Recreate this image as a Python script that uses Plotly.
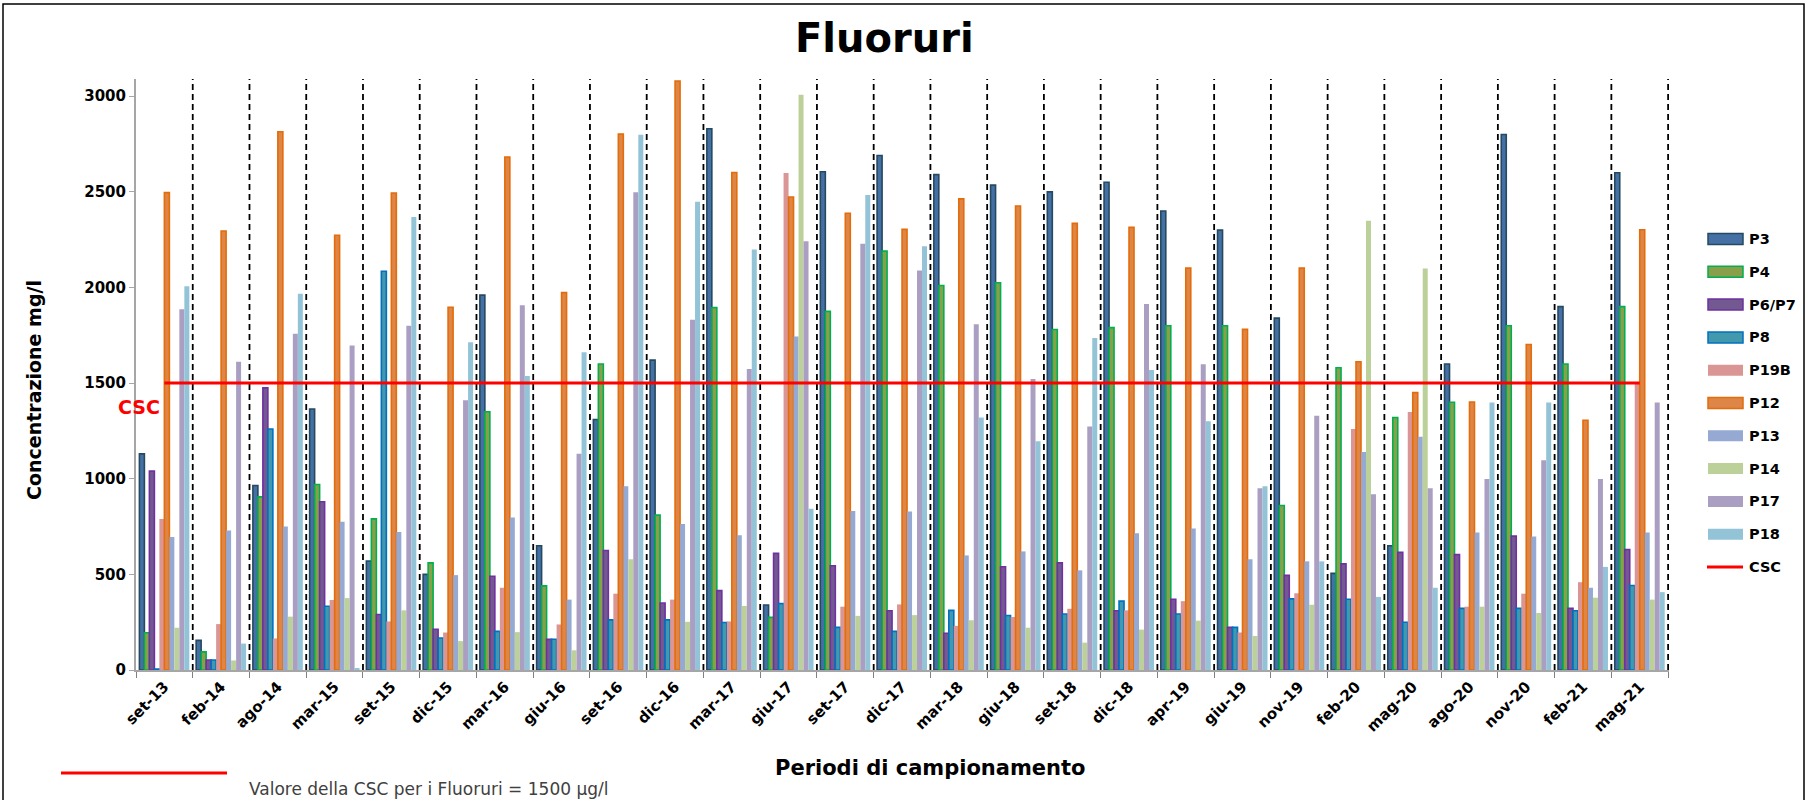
import plotly.graph_objects as go

periods = ["set-13", "feb-14", "ago-14", "mar-15", "set-15", "dic-15", "mar-16", "giu-16", "set-16",
           "dic-16", "mar-17", "giu-17", "set-17", "dic-17", "mar-18", "giu-18", "set-18", "dic-18",
           "apr-19", "giu-19", "nov-19", "feb-20", "mag-20", "ago-20", "nov-20", "feb-21", "mag-21"]

p3 = [1130, 155, 965, 1365, 570, 500, 1960, 650, 1310, 1620, 2830, 340, 2605, 2690, 2590, 2535, 2500,
      2550, 2400, 2300, 1840, 505, 650, 1600, 2800, 1900, 2600]
p4 = [195, 95, 905, 970, 790, 560, 1350, 440, 1600, 810, 1895, 275, 1875, 2190, 2010, 2025, 1780,
      1790, 1800, 1800, 860, 1580, 1320, 1400, 1800, 1600, 1900]
p6_p7 = [1040, 52, 1475, 880, 290, 213, 490, 160, 625, 350, 415, 610, 545, 310, 192, 540, 560,
         310, 370, 223, 495, 555, 615, 603, 700, 322, 630]
p8 = [5, 52, 1260, 333, 2085, 167, 202, 161, 262, 262, 248, 347, 223, 202, 312, 285, 293,
      360, 293, 223, 372, 370, 250, 322, 322, 310, 442]
p19b = [789, 240, 165, 366, 254, 196, 430, 238, 399, 368, 254, 2599, 331, 343, 231, 277, 320,
        312, 360, 196, 401, 1260, 1349, 331, 399, 459, 1500]
p12 = [2496, 2295, 2814, 2273, 2494, 1897, 2682, 1973, 2802, 3079, 2601, 2473, 2388, 2304, 2463, 2426, 2335,
       2314, 2101, 1781, 2101, 1612, 1450, 1401, 1702, 1306, 2302]
p13 = [696, 729, 750, 775, 721, 496, 797, 368, 961, 764, 705, 1744, 831, 829, 599, 620, 521,
       715, 740, 579, 568, 1140, 1219, 719, 698, 430, 719]
p14 = [221, 50, 279, 376, 312, 151, 198, 103, 579, 252, 335, 3008, 283, 287, 260, 221, 143,
       211, 258, 178, 341, 2349, 2099, 331, 298, 378, 368]
p17 = [1886, 1612, 1758, 1696, 1800, 1411, 1907, 1130, 2498, 1831, 1574, 2242, 2229, 2089, 1808, 1521, 1273,
       1913, 1599, 950, 1329, 919, 950, 998, 1097, 998, 1399]
p18 = [2006, 138, 1967, 10, 2368, 1713, 1537, 1661, 2798, 2448, 2198, 843, 2483, 2215, 1320, 1196, 1736,
       1568, 1300, 961, 568, 382, 430, 1399, 1399, 539, 407]
csc = [1500] * len(periods)

SERIES = [
    ("P3", p3, "#4470A5", "#254A60"),
    ("P4", p4, "#8A9F4A", "#00B050"),
    ("P6/P7", p6_p7, "#725A91", "#7030A0"),
    ("P8", p8, "#4299AE", "#0070C0"),
    ("P19B", p19b, "#D99694", None),
    ("P12", p12, "#DD8647", "#E46C0A"),
    ("P13", p13, "#95A9D2", None),
    ("P14", p14, "#BCD09A", None),
    ("P17", p17, "#AA9FC3", None),
    ("P18", p18, "#93C3D6", None),
]

FONT = "DejaVu Sans"
W, H = 1809, 800
L, R, T, B = 136, 140, 79, 130
PW, PH = W - L - R, H - T - B


def px_x(px):
    return (px - L) / PW


def px_y(py):
    return (H - B - py) / PH


fig = go.Figure()
for name, vals, fill, edge in SERIES:
    fig.add_trace(go.Bar(
        x=periods, y=vals, name=name,
        marker=dict(color=fill, line=dict(color=edge or fill, width=1.6 if edge else 0)),
        showlegend=False,
    ))

fig.add_trace(go.Scatter(
    x=periods, y=csc, name="CSC", mode="lines",
    line=dict(color="#FF0000", width=3), showlegend=False,
))

shapes = []
# dashed separators between sampling periods
for i in range(1, len(periods) + 1):
    shapes.append(dict(type="line", xref="x", yref="paper", x0=i - 0.5, x1=i - 0.5, y0=0, y1=1,
                       line=dict(color="black", width=1.8, dash="6px,4px"), layer="below"))

annotations = []
# manual legend on the right
for i, (name, vals, fill, edge) in enumerate(SERIES):
    yc = 239 + 32.8 * i
    shapes.append(dict(type="rect", xref="paper", yref="paper",
                       x0=px_x(1708), x1=px_x(1743), y0=px_y(yc - 5.5), y1=px_y(yc + 5.5),
                       fillcolor=fill, line=dict(color=edge or fill, width=1.5 if edge else 0)))
    annotations.append(dict(text=name, xref="paper", yref="paper", x=px_x(1747), y=px_y(yc),
                            xanchor="left", yanchor="middle", showarrow=False,
                            font=dict(family=FONT, size=14.5, color="black", weight="bold")))
yc = 239 + 32.8 * len(SERIES)
shapes.append(dict(type="line", xref="paper", yref="paper", x0=px_x(1707), x1=px_x(1743),
                   y0=px_y(yc), y1=px_y(yc), line=dict(color="#FF0000", width=3)))
annotations.append(dict(text="CSC", xref="paper", yref="paper", x=px_x(1747), y=px_y(yc),
                        xanchor="left", yanchor="middle", showarrow=False,
                        font=dict(family=FONT, size=14.5, color="black", weight="bold")))

# note at the bottom left
shapes.append(dict(type="line", xref="paper", yref="paper", x0=px_x(61), x1=px_x(227),
                   y0=px_y(773), y1=px_y(773), line=dict(color="#FF0000", width=3)))
annotations.append(dict(text="Valore della CSC per i Fluoruri = 1500 µg/l", xref="paper", yref="paper",
                        x=px_x(247), y=px_y(789), xanchor="left", yanchor="middle", showarrow=False,
                        font=dict(family=FONT, size=17, color="#404040")))

# frame around the whole picture
shapes.append(dict(type="rect", xref="paper", yref="paper", x0=px_x(3), x1=px_x(1804),
                   y0=px_y(4), y1=px_y(830), line=dict(color="black", width=1.5), layer="below"))

annotations += [
    dict(text="Fluoruri", xref="paper", yref="paper", x=px_x(884), y=px_y(38),
         xanchor="center", yanchor="middle", showarrow=False,
         font=dict(family=FONT, size=40, color="black", weight="bold")),
    dict(text="Concentrazione mg/l", xref="paper", yref="paper", x=px_x(34), y=px_y(390),
         xanchor="center", yanchor="middle", showarrow=False, textangle=-90,
         font=dict(family=FONT, size=19, color="black", weight="bold")),
    dict(text="Periodi di campionamento", xref="paper", yref="paper", x=px_x(930), y=px_y(768),
         xanchor="center", yanchor="middle", showarrow=False,
         font=dict(family=FONT, size=21, color="black", weight="bold")),
    dict(text="CSC", xref="paper", yref="paper", x=px_x(139), y=px_y(407),
         xanchor="center", yanchor="middle", showarrow=False,
         font=dict(family=FONT, size=19, color="#FF0000", weight="bold")),
]

fig.update_layout(
    width=W, height=H,
    paper_bgcolor="white", plot_bgcolor="white",
    margin=dict(l=L, r=R, t=T, b=B, autoexpand=False),
    barmode="group", bargap=0.12, bargroupgap=0,
    font=dict(family=FONT, color="black"),
    xaxis=dict(
        showgrid=False, showline=True, linecolor="#A6A6A6", linewidth=2,
        ticks="outside", tickson="boundaries", ticklen=6, tickcolor="#808080",
        tickangle=-45, tickfont=dict(family=FONT, size=15, color="black", weight="bold"),
    ),
    yaxis=dict(
        range=[0, 3090], dtick=500, showgrid=False, zeroline=False,
        showline=True, linecolor="#A6A6A6", linewidth=2,
        ticks="outside", ticklen=5, tickcolor="#A6A6A6",
        tickfont=dict(family=FONT, size=15, color="black", weight="bold"),
    ),
    shapes=shapes,
    annotations=annotations,
    showlegend=False,
)

# the page's default body margin would push the figure 8px off the window
fig.write_html("out.html", config={"displayModeBar": False},
               post_script="document.body.style.margin='0';")
